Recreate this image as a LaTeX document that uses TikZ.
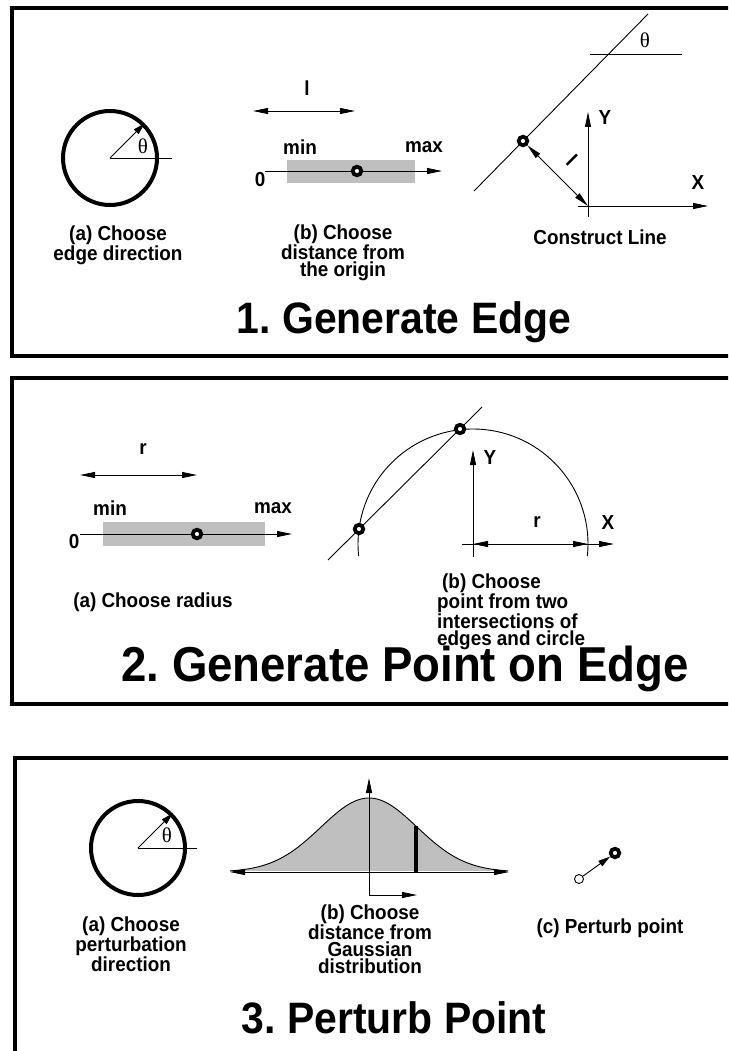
\documentclass[tikz,border=0pt]{standalone}
\usepackage{fontspec}
\setmainfont{Liberation Sans}[FakeStretch=0.93]
\newfontfamily\seriffont{Liberation Serif}
\usetikzlibrary{arrows.meta}
\frenchspacing
\begin{document}
\begin{tikzpicture}[x=1pt,y=-1pt,
  >={Triangle[length=15pt,width=6pt]},
  smalltip/.style={-{Triangle[length=12pt,width=6.5pt]}},
  panel/.style={line width=4pt},
  ln/.style={line width=0.9pt},
  lbl/.style={font=\bfseries\fontsize{20.3}{17.2}\selectfont, align=center, inner sep=0pt},
  ttl/.style={font=\bfseries\fontsize{44}{48}\selectfont, inner sep=0pt},
  greek/.style={font=\seriffont\fontsize{21}{22}\selectfont, inner sep=0pt},
  bull/.style={circle, draw, line width=3.8pt, fill=white, inner sep=0pt, minimum size=8.5pt},
  dial/.style={circle, draw, line width=4pt, inner sep=0pt, minimum size=94pt},
  band/.style={fill=gray!50, draw=none, inner sep=0pt},
]
\path[use as bounding box, clip] (0,0) rectangle (728,1051);
\fill[white] (0,0) rectangle (728,1051);

% ---------- panel borders
\draw[panel] (12,8) rectangle (790,356);
\draw[panel] (12,378) rectangle (790,704);
\draw[panel] (15,758) rectangle (790,1100);

% ================= Panel 1
\node[dial] (d1) at (110,158) {};
\coordinate (h1) at (172,158);
\draw[ln] (d1.center) -- (h1);
\draw[ln, smalltip] (d1.center) -- (d1.45);
\node[greek] (t1) at (143,146) {θ};
\node[lbl] (a1) at (118,245) {(a) Choose\\edge direction};

\node[lbl] (l1) at (307,88) {l};
\coordinate (la) at (253,111);
\coordinate (lb) at (355,111);
\draw[ln,<->] (la) -- (lb);
\node[lbl] (min1) at (300,147) {min};
\node[lbl] (max1) at (424,147) {max};
\node[band, minimum width=128pt, minimum height=23pt] (r1) at (351,171.5) {};
\node[lbl] (z1) at (260,180) {0};
\coordinate (ax1s) at (265,171);
\coordinate (ax1e) at (442,171);
\draw[ln,->] (ax1s) -- (ax1e);
\node[bull] (b1) at (357,171) {};
\node[lbl] (a2) at (343,253) {(b) Choose\\distance from\\the origin};

\coordinate (e1a) at (474,191);
\coordinate (e1b) at (648,14);
\draw[ln] (e1a) -- (e1b);
\coordinate (h2a) at (590,54);
\coordinate (h2b) at (682,54);
\draw[ln] (h2a) -- (h2b);
\node[greek] (t2) at (645,40) {θ};
\coordinate (o1) at (588,206);
\coordinate (y1b) at (588,217);
\coordinate (y1t) at (588,112);
\draw[ln,->] (y1b) -- (y1t);
\coordinate (x1l) at (578,206);
\coordinate (x1r) at (708,206);
\draw[ln,->] (x1l) -- (x1r);
\node[lbl] (Y1) at (605,118) {Y};
\node[lbl] (X1) at (698,183) {X};
\node[bull] (b2) at (523,141) {};
\draw[ln,<->] (b2) -- (o1);
\node[lbl, rotate=-45] (l2) at (572,160) {l};
\node[lbl] (a3) at (600,237) {Construct Line};
\node[ttl] (T1) at (404,322) {1. Generate Edge};

% ================= Panel 2
\node[lbl] (r2) at (143,449) {r};
\coordinate (ra) at (80,475);
\coordinate (rb) at (197,475);
\draw[ln,<->] (ra) -- (rb);
\node[lbl] (min2) at (110,508) {min};
\node[lbl] (max2) at (273,508) {max};
\node[band, minimum width=162pt, minimum height=24pt] (r3) at (184,534) {};
\node[lbl] (z2) at (74,542) {0};
\coordinate (ax2s) at (80,534);
\coordinate (ax2e) at (292,534);
\draw[ln,->] (ax2s) -- (ax2e);
\node[bull] (b3) at (197,534) {};
\node[lbl] (a4) at (153,602) {(a) Choose radius};

\coordinate (c2) at (473,544);
\draw[ln] ([shift={(6:115)}]c2) arc[start angle=6, end angle=-186, radius=115];
\coordinate (e2a) at (328,560);
\coordinate (e2b) at (482,407);
\draw[ln] (e2a) -- (e2b);
\node[bull] (b4) at (359,529) {};
\node[bull] (b5) at (460,429) {};
\coordinate (y2b) at (473,557);
\coordinate (y2t) at (473,450);
\draw[ln,->] (y2b) -- (y2t);
\coordinate (x2l) at (462,544);
\coordinate (x2r) at (614,544);
\draw[ln,->] (x2l) -- (x2r);
\coordinate (rr) at (588,544);
\draw[ln,<->] (c2) -- (rr);
\node[lbl] (Y2) at (490,458) {Y};
\node[lbl] (X2) at (608,523) {X};
\node[lbl] (r4) at (537,522) {r};
\node[lbl, align=left, anchor=west] (a5) at (437,612) {\hspace*{5pt}(b) Choose\\point from two\\intersections of\\edges and circle};
\node[ttl, font=\bfseries\fontsize{49}{52}\selectfont] (T2) at (405,669) {2. Generate Point on Edge};

% ================= Panel 3
\node[dial] (d3) at (138,848) {};
\coordinate (h3) at (197,848);
\draw[ln] (d3.center) -- (h3);
\draw[ln, smalltip] (d3.center) -- (d3.45);
\node[greek] (t3) at (167,835) {θ};
\node[lbl] (a6) at (131,944) {(a) Choose\\perturbation\\direction};

\fill[gray!50] plot[domain=-2.043:2.043, samples=90] ({369+68*\x},{872-74*exp(-\x*\x)}) -- cycle;
\draw[ln] plot[domain=-2.043:2.043, samples=90] ({369+68*\x},{872-74*exp(-\x*\x)});
\coordinate (gl) at (230,872);
\coordinate (gr) at (509,872);
\draw[ln,<->] (gl) -- (gr);
\coordinate (bt) at (416,826);
\coordinate (bb) at (416,872);
\draw[line width=4pt] (bt) -- (bb);
\coordinate (vt) at (369,778);
\coordinate (vc) at (369,895);
\coordinate (vr) at (417,895);
\draw[ln,<->] (vt) -- (vc) -- (vr);
\node[lbl] (a7) at (370,939) {(b) Choose\\distance from\\Gaussian\\distribution};

\node[circle, draw, ln, minimum size=9pt, inner sep=0pt] (p0) at (579,879) {};
\node[bull] (p1) at (615,853) {};
\draw[ln, smalltip] (p0) -- (p1);
\node[lbl] (a8) at (610,928) {(c) Perturb point};
\node[ttl] (T3) at (394,1018) {3. Perturb Point};
\end{tikzpicture}
\end{document}
